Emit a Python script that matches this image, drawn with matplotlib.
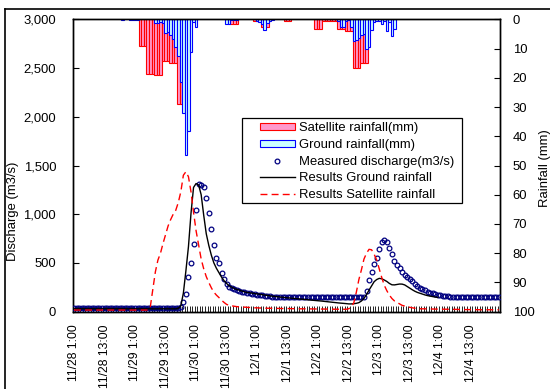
import numpy as np
import matplotlib
matplotlib.use('Agg')
import matplotlib.pyplot as plt
from matplotlib.lines import Line2D
from matplotlib.patches import Patch, Rectangle

plt.rcParams['font.family'] = ['Liberation Sans', 'DejaVu Sans']

# hourly categories, 11/28 1:00 ... 12/5 0:00
date_labels = ["11/28 1:00", "11/28 13:00", "11/29 1:00", "11/29 13:00",
               "11/30 1:00", "11/30 13:00", "12/1 1:00", "12/1 13:00",
               "12/2 1:00", "12/2 13:00", "12/3 1:00", "12/3 13:00",
               "12/4 1:00", "12/4 13:00"]
left_ticks = [0, 500, 1000, 1500, 2000, 2500, 3000]
left_tick_labels = ["0", "500", "1,000", "1,500", "2,000", "2,500", "3,000"]
right_ticks = [0, 10, 20, 30, 40, 50, 60, 70, 80, 90, 100]

# measured discharge (m3/s), one row = 12 hours
measured = [
    35, 35, 35, 35, 35, 35, 35, 35, 35, 35, 35, 35,
    35, 35, 35, 35, 35, 35, 35, 35, 35, 35, 35, 35,
    35, 35, 35, 35, 35, 35, 35, 35, 35, 35, 35, 35,
    35, 35, 35, 35, 35, 35, 51, 103, 178, 353, 496, 698,
    1043, 1307, 1300, 1282, 1163, 1016, 848, 681, 548, 503, 400, 332,
    284, 257, 240, 228, 218, 210, 204, 198, 193, 188, 183, 178,
    174, 170, 167, 164, 161, 158, 156, 155, 154, 153, 153, 152,
    152, 152, 152, 152, 152, 152, 152, 152, 152, 152, 152, 152,
    152, 152, 152, 152, 152, 152, 152, 152, 152, 152, 152, 152,
    152, 152, 152, 152, 152, 152, 154, 215, 330, 405, 490, 555,
    645, 715, 740, 720, 655, 590, 525, 475, 450, 412, 380, 355,
    333, 310, 287, 266, 248, 232, 218, 206, 196, 189, 182, 176,
    171, 166, 162, 160, 156, 154, 154, 154, 154, 154, 154, 154,
    154, 154, 154, 154, 154, 154, 154, 154, 154, 154, 154, 154,
]

# simulated discharge with ground rainfall
sim_ground = [
    30, 30, 30, 30, 30, 30, 30, 30, 30, 30, 30, 30,
    30, 30, 30, 30, 30, 30, 30, 30, 30, 30, 30, 30,
    30, 30, 30, 30, 30, 30, 30, 30, 30, 30, 30, 30,
    30, 30, 30, 30, 30, 35, 60, 190, 420, 667, 1009, 1275,
    1315, 1300, 1200, 990, 800, 680, 580, 500, 445, 400, 355, 318,
    290, 266, 252, 238, 229, 220, 212, 204, 198, 194, 190, 186,
    182, 178, 174, 170, 166, 162, 159, 156, 153, 150, 148, 145,
    143, 140, 138, 135, 133, 130, 128, 125, 122, 120, 117, 115,
    112, 110, 107, 104, 101, 98, 95, 92, 90, 88, 85, 83,
    80, 80, 82, 86, 93, 110, 137, 175, 222, 265, 308, 330,
    342, 338, 325, 310, 290, 276, 275, 280, 284, 283, 275, 258,
    240, 225, 210, 198, 189, 180, 172, 165, 160, 155, 150, 147,
    None, None, None, None, None, None, None, None, None, None, None, None,
    None, None, None, None, None, None, None, None, None, None, None, None,
]

# simulated discharge with satellite rainfall
sim_satellite = [
    17, 17, 17, 17, 17, 17, 17, 17, 17, 17, 17, 17,
    17, 17, 17, 17, 17, 17, 17, 17, 17, 17, 17, 17,
    17, 17, 17, 17, 17, 17, 50, 230, 410, 530, 600, 700,
    790, 880, 945, 1000, 1040, 1120, 1230, 1400, 1436, 1385, 1230, 1020,
    830, 684, 540, 440, 360, 300, 245, 200, 170, 145, 118, 95,
    75, 65, 60, 56, 52, 50, 48, 46, 45, 44, 42, 40,
    40, 38, 38, 36, 36, 35, 35, 34, 34, 33, 33, 32,
    32, 32, 31, 31, 30, 30, 30, 29, 29, 29, 28, 28,
    28, 27, 27, 27, 26, 26, 26, 25, 25, 25, 25, 25,
    30, 50, 90, 200, 330, 430, 540, 600, 640, 635, 590, 530,
    440, 350, 270, 215, 170, 135, 110, 95, 80, 65, 58, 50,
    45, 40, 35, 32, 30, 30, 29, 29, 28, 28, 27, 27,
    26, 26, 25, 25, 25, 24, 24, 23, 23, 22, 22, 22,
    21, 21, 21, 20, 20, 20, 20, 20, 20, 20, 20, 20,
]

# satellite rainfall (mm), 3-hourly blocks
satellite_rain = [
    0, 0, 0, 0, 0, 0, 0, 0, 0, 0, 0, 0,
    0, 0, 0, 0, 0, 0, 0, 0, 0, 0, 0, 0,
    0, 0, 9.3, 9.3, 9.3, 18.8, 18.8, 18.8, 19.2, 19.2, 19.2, 14.1,
    14.1, 14.1, 15.0, 15.0, 15.0, 29.0, 29.0, 29.0, 0, 0, 0, 0,
    0, 0, 0, 0, 0, 0, 0, 0, 0, 0, 0, 0,
    0, 0, 1.6, 1.6, 1.6, 0, 0, 0, 0, 0, 0, 0.5,
    0.5, 0.5, 2.5, 2.5, 2.5, 0, 0, 0, 0, 0, 0, 0.5,
    0.5, 0.5, 0, 0, 0, 0, 0, 0, 0, 0, 0, 3.2,
    3.2, 3.2, 0.5, 0.5, 0.5, 0.5, 0.5, 0.5, 3.2, 3.2, 3.2, 3.9,
    3.9, 3.9, 16.8, 16.8, 16.8, 14.8, 14.8, 14.8, 0, 0, 0, 0,
    0, 0, 0, 0, 0, 0, 0, 0, 0, 0, 0, 0,
    0, 0, 0, 0, 0, 0, 0, 0, 0, 0, 0, 0,
    0, 0, 0, 0, 0, 0, 0, 0, 0, 0, 0, 0,
    0, 0, 0, 0, 0, 0, 0, 0, 0, 0, 0, 0,
]

# ground rainfall (mm), hourly
ground_rain = [
    0, 0, 0, 0, 0, 0, 0, 0, 0, 0, 0, 0,
    0, 0, 0, 0, 0, 0, 0, 0.3, 0, 0, 0.3, 0.3,
    0.3, 0.3, 0, 0, 0, 0, 0, 0, 1.4, 1.4, 1.0, 1.4,
    4.8, 4.4, 5.4, 6.8, 9.4, 12.4, 21.5, 32.0, 46.4, 38.2, 11.1, 1.0,
    2.7, 0, 0, 0, 0, 0, 0, 0, 0, 0, 0, 0,
    1.6, 1.6, 0.4, 0.4, 0.3, 0, 0, 0, 0, 0, 0, 0,
    0.5, 1.0, 1.5, 3.7, 1.2, 0.5, 0.3, 0, 0, 0, 0, 0,
    0, 0, 0, 0, 0, 0, 0, 0, 0, 0, 0, 0,
    0, 0, 0, 0, 0, 0, 0, 0, 0.5, 2.5, 2.5, 0.5,
    0.3, 2.5, 7.5, 7.0, 6.5, 5.5, 5.0, 10.3, 9.5, 3.5, 1.0, 0.5,
    0.5, 1.5, 0.5, 3.9, 1.0, 5.7, 3.3, 0, 0, 0, 0, 0,
    0, 0, 0, 0, 0, 0, 0, 0, 0, 0, 0, 0,
    0, 0, 0, 0, 0, 0, 0, 0, 0, 0, 0, 0,
    0, 0, 0, 0, 0, 0, 0, 0, 0, 0, 0, 0,
]

hours = np.arange(len(measured))
sat = np.array(satellite_rain, dtype=float)
gr = np.array(ground_rain, dtype=float)
simg = np.array([np.nan if v is None else v for v in sim_ground], dtype=float)

fig = plt.figure(figsize=(5.5, 3.89), dpi=100)
ax = fig.add_axes([0.1322, 0.1987, 0.777, 0.7517])
ax2 = ax.twinx()
ax.set_zorder(ax2.get_zorder() + 1)
ax.patch.set_visible(False)

# rainfall bars hanging from the top
ms = sat > 0
ax2.bar(hours[ms], sat[ms], width=1.0, color='#FF99CC', edgecolor='#FF0000', linewidth=0.8)
mg = gr > 0
ax2.bar(hours[mg], gr[mg], width=1.0, color='#CCFFFF', edgecolor='#0000FF', linewidth=0.8)
ax2.set_ylim(100, 0)
ax2.set_yticks(right_ticks)
ax2.tick_params(axis='y', direction='in', length=4, pad=9, labelsize=9.4)
ax2.set_ylabel("Rainfall (mm)", fontsize=9.4)
ax2.yaxis.set_label_coords(1.09, 0.49)

# discharge
ax.plot(hours, measured, 'o', ms=3.4, mfc='none', mec='#000080', mew=0.9, zorder=3)
ax.plot(hours, simg, '-', color='black', lw=1.0, zorder=4)
ax.plot(hours, sim_satellite, '--', color='#FF0000', lw=1.0, dashes=(5, 3), zorder=4)

ax.set_xlim(-0.5, len(hours) - 0.5)
ax.set_ylim(0, 3000)
ax.set_yticks(left_ticks)
ax.set_yticklabels(left_tick_labels)
ax.tick_params(axis='y', direction='in', length=4, pad=12, labelsize=9.4)
ax.set_ylabel("Discharge (m3/s)", fontsize=9.4)
ax.yaxis.set_label_coords(-0.126, 0.344)

ax.set_xticks(np.arange(0, len(hours), 12))
ax.set_xticklabels(date_labels, rotation=90, ha='center', va='top', fontsize=8.8)
ax.set_xticks(np.arange(-0.5, len(hours), 1.0), minor=True)
ax.tick_params(axis='x', which='major', length=0, pad=9)
ax.tick_params(axis='x', which='minor', direction='in', length=4, width=0.6)
ax2.tick_params(axis='x', which='both', length=0)

for a in (ax, ax2):
    for s in a.spines.values():
        s.set_linewidth(1.0)
        s.set_color('black')

# legend with a plain square frame
lx0, ly0, lx1, ly1 = 0.397, 0.373, 0.911, 0.6635
ax.add_patch(Rectangle((lx0, ly0), lx1 - lx0, ly1 - ly0, transform=ax.transAxes,
                       facecolor='white', edgecolor='black', lw=0.9, zorder=9))
handles = [
    Patch(facecolor='#FF99CC', edgecolor='#FF0000', lw=0.8),
    Patch(facecolor='#CCFFFF', edgecolor='#0000FF', lw=0.8),
    Line2D([], [], ls='none', marker='o', ms=3.4, mfc='none', mec='#000080', mew=0.9),
    Line2D([], [], color='black', lw=1.0),
    Line2D([], [], color='#FF0000', lw=1.0, ls='--', dashes=(5, 3)),
]
labels = ["Satellite rainfall(mm)", "Ground rainfall(mm)", "Measured discharge(m3/s)",
          "Results Ground rainfall", "Results Satellite rainfall"]
leg = ax.legend(handles, labels, loc='upper left', bbox_to_anchor=(lx0 + 0.03, ly1),
                frameon=False, fontsize=9.4, handlelength=2.7, handleheight=0.45,
                handletextpad=0.3, labelspacing=0.36, borderpad=0.35, borderaxespad=0)
leg.set_zorder(10)

# chart area border
fig.add_artist(Line2D([5 / 550, 5 / 550], [0, 1 - 9 / 389], transform=fig.transFigure,
                      color='black', lw=1.2))
fig.add_artist(Line2D([5 / 550, 1], [1 - 9 / 389, 1 - 9 / 389], transform=fig.transFigure,
                      color='black', lw=1.2))

fig.savefig('out.png', dpi=100, facecolor='white')
